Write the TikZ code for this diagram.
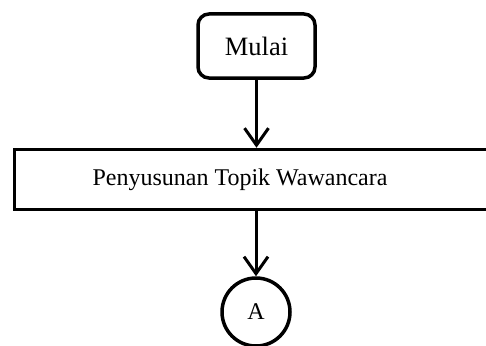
\documentclass[tikz,border=0pt]{standalone}
\usepackage{fontspec}
\setmainfont{Liberation Serif}
\usetikzlibrary{arrows.meta}
\tikzset{
  box/.style={draw, line width=3.5pt, inner sep=0pt, font=\fontsize{24}{28}\selectfont},
  startbox/.style={box, rounded corners=11pt, minimum width=117pt, minimum height=64pt,
    font=\fontsize{26.5}{30}\selectfont},
  procbox/.style={box, minimum width=486pt, minimum height=60pt},
  connector/.style={box, circle, minimum size=68pt},
  flow/.style={line width=3pt, -{Straight Barb[length=17pt, width=24pt, line width=3pt]}}
}
\begin{document}
\begin{tikzpicture}[x=1pt, y=1pt]
  \useasboundingbox (0,0) rectangle (486,-345);
  \clip (0,0) rectangle (486,-345);
  \node[startbox] (mulai) at (256.5,-46) {Mulai};
  \node[procbox] (topik) at (257.5,-179.5) {Penyusunan Topik Wawancara\hspace*{35pt}};
  \node[connector] (a) at (256,-312) {A};
  \draw[flow] (mulai.south) -- (mulai.south |- topik.north);
  \draw[flow] (a.north |- topik.south) -- (a.north);
\end{tikzpicture}
\end{document}
